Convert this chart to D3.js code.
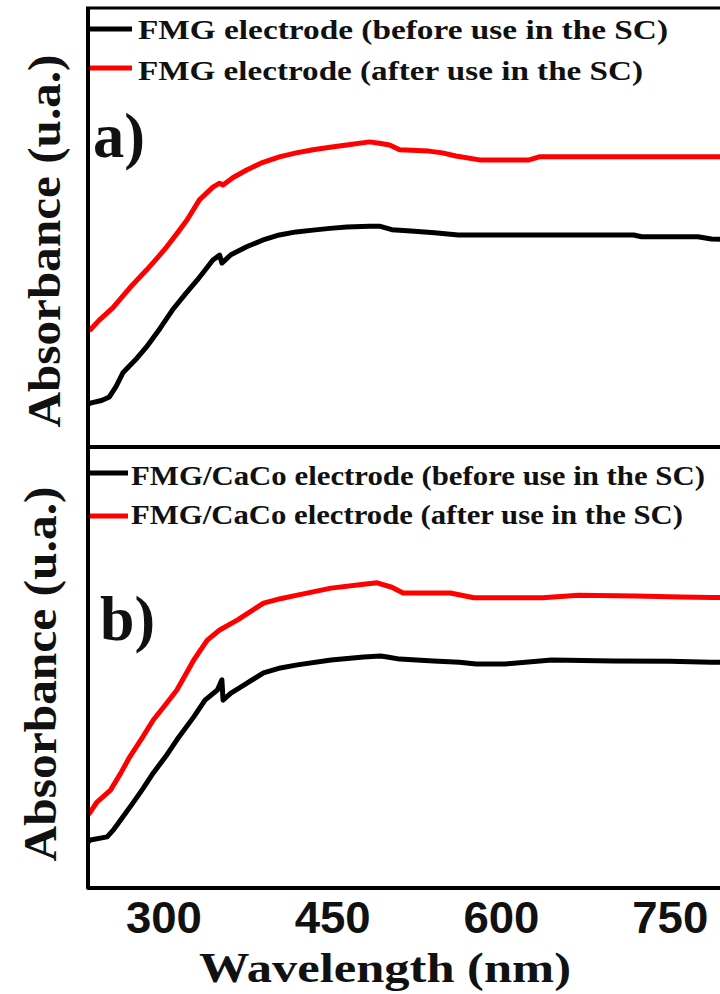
<!DOCTYPE html>
<html>
<head>
<meta charset="utf-8">
<script src="https://cdn.jsdelivr.net/npm/d3@7"></script>
<style>
  html, body { margin: 0; padding: 0; background: #fff; }
  svg { display: block; }
</style>
</head>
<body>
<svg id="chart" width="720" height="994"></svg>
<script>
// ---------------- DATA ----------------
const xTicks = [300, 450, 600, 750];

// Panel a) FMG electrode
const fmgBeforeWl  = [233, 235, 245, 252, 258, 264, 275, 285, 297, 308, 320, 330, 338, 344, 350, 352, 360, 374, 388, 403, 418, 433, 448, 463, 483, 492, 503, 520, 541, 562, 600, 650, 700, 718, 725, 760, 775, 787, 800];
const fmgBeforeAbs = [9.6, 10.0, 10.6, 11.4, 13.8, 16.9, 19.8, 22.8, 27.0, 31.2, 35.0, 38.0, 40.6, 42.6, 43.7, 41.9, 43.8, 45.6, 47.1, 48.3, 49.0, 49.4, 49.8, 50.1, 50.3, 50.3, 49.5, 49.2, 48.8, 48.3, 48.3, 48.3, 48.3, 48.3, 47.9, 47.9, 47.9, 47.4, 47.3];

const fmgAfterWl  = [233, 235, 243, 255, 262, 270, 285, 295, 303, 312, 321, 332, 344, 350, 353, 362, 374, 388, 403, 418, 433, 448, 463, 483, 492, 501, 510, 536, 548, 560, 581, 600, 625, 634, 700, 750, 787, 800];
const fmgAfterAbs = [26.7, 26.7, 28.9, 31.7, 33.8, 36.2, 40.3, 43.2, 45.6, 48.6, 51.7, 56.3, 59.2, 60.1, 59.7, 61.4, 63.1, 64.8, 66.1, 67.0, 67.7, 68.3, 68.8, 69.5, 69.2, 68.8, 67.7, 67.4, 67.0, 66.3, 65.4, 65.4, 65.4, 66.1, 66.1, 66.1, 66.1, 66.1];

// Panel b) FMG/CaCo electrode
const cacoBeforeWl  = [233, 235, 250, 256, 262, 273, 282, 291, 302, 312, 327, 337, 348, 352, 353, 360, 369, 389, 404, 419, 449, 478, 493, 499, 510, 540, 563, 578, 604, 645, 700, 750, 787, 800];
const cacoBeforeAbs = [10.4, 10.9, 11.6, 13.3, 15.4, 19.3, 22.6, 26.1, 29.8, 33.6, 38.8, 42.6, 44.9, 47.2, 42.6, 44.2, 45.6, 48.8, 49.9, 50.6, 51.7, 52.4, 52.6, 52.4, 51.9, 51.5, 51.2, 50.8, 50.8, 51.7, 51.5, 51.4, 51.2, 51.2];

const cacoAfterWl  = [233, 235, 241, 253, 262, 270, 281, 291, 302, 312, 327, 339, 350, 366, 389, 404, 419, 449, 478, 490, 503, 513, 555, 576, 637, 669, 720, 760, 787, 800];
const cacoAfterAbs = [16.6, 17.2, 19.5, 22.2, 26.0, 29.7, 34.0, 38.1, 41.6, 44.9, 51.7, 56.2, 58.5, 60.8, 64.6, 65.6, 66.4, 68.0, 68.9, 69.2, 68.2, 66.9, 66.9, 65.8, 65.8, 66.4, 66.2, 66.0, 65.9, 65.9];

const panels = [
  { tag: "a)", series: [
      { name: "FMG electrode (before use in the SC)", wl: fmgBeforeWl, abs: fmgBeforeAbs, color: "#000000" },
      { name: "FMG electrode (after use in the SC)",  wl: fmgAfterWl,  abs: fmgAfterAbs,  color: "#ff0000" } ] },
  { tag: "b)", series: [
      { name: "FMG/CaCo electrode (before use in the SC)", wl: cacoBeforeWl, abs: cacoBeforeAbs, color: "#000000" },
      { name: "FMG/CaCo electrode (after use in the SC)",  wl: cacoAfterWl,  abs: cacoAfterAbs,  color: "#ff0000" } ] }
];

// ---------------- LAYOUT ----------------
const svg = d3.select("#chart");
const left = 88, right = 726;
const panelTops = [8, 447], panelBottoms = [447, 888];
const serif = "'Liberation Serif', 'Times New Roman', serif";
const sans = "'Liberation Sans', Arial, sans-serif";

const x = d3.scaleLinear().domain([233, 800]).range([left, right]);

const legendCfg = [
  { lineX2: 132, textX: 138, rows: [ {y: 29, base: 39, len: 530}, {y: 68, base: 80, len: 505} ], size: 27 },
  { lineX2: 128, textX: 131, rows: [ {y: 473, base: 485, len: 574}, {y: 516, base: 524, len: 552} ], size: 27 }
];
const tagCfg = [ {x: 93, base: 157, len: 52, size: 64}, {x: 100, base: 640, len: 55, size: 64} ];
const ylabCfg = [ {cx: 44, cy: 241, len: 373}, {cx: 40, cy: 674, len: 375} ];

panels.forEach((p, i) => {
  const y = d3.scaleLinear().domain([0, 100]).range([panelBottoms[i], panelTops[i]]);
  const g = svg.append("g");
  const line = d3.line().x(d => x(d[0])).y(d => y(d[1])).curve(d3.curveLinear);

  p.series.forEach(s => {
    g.append("path")
      .datum(d3.zip(s.wl, s.abs))
      .attr("d", line)
      .attr("fill", "none")
      .attr("stroke", s.color)
      .attr("stroke-width", 5)
      .attr("stroke-linejoin", "round");
  });

  const lc = legendCfg[i];
  p.series.forEach((s, k) => {
    const r = lc.rows[k];
    g.append("line").attr("x1", left).attr("x2", lc.lineX2).attr("y1", r.y).attr("y2", r.y)
      .attr("stroke", s.color).attr("stroke-width", 5);
    g.append("text").attr("x", lc.textX).attr("y", r.base)
      .attr("font-family", serif).attr("font-weight", "bold").attr("font-size", lc.size)
      .attr("fill", "#111")
      .attr("textLength", r.len).attr("lengthAdjust", "spacingAndGlyphs")
      .text(s.name);
  });

  const tc = tagCfg[i];
  g.append("text").attr("x", tc.x).attr("y", tc.base)
    .attr("font-family", serif).attr("font-weight", "bold").attr("font-size", tc.size)
    .attr("fill", "#111")
    .attr("textLength", tc.len).attr("lengthAdjust", "spacingAndGlyphs")
    .text(p.tag);

  const yc = ylabCfg[i];
  g.append("text")
    .attr("transform", `translate(${yc.cx + 16},${yc.cy}) rotate(-90)`)
    .attr("text-anchor", "middle")
    .attr("font-family", serif).attr("font-weight", "bold").attr("font-size", 46)
    .attr("fill", "#111")
    .attr("textLength", yc.len).attr("lengthAdjust", "spacingAndGlyphs")
    .text("Absorbance (u.a.)");
});

// frame lines
const frame = svg.append("g").attr("stroke", "#000").attr("fill", "none");
frame.append("line").attr("x1", left - 2).attr("x2", 720).attr("y1", 8).attr("y2", 8).attr("stroke-width", 3);
frame.append("line").attr("x1", left).attr("x2", 720).attr("y1", 447).attr("y2", 447).attr("stroke-width", 4);
frame.append("path").attr("d", `M${left},7 V888 H720`).attr("stroke-width", 4).attr("stroke-linejoin", "round");

// x axis (tick labels only, no tick marks)
const xAxis = d3.axisBottom(x).tickValues(xTicks).tickSize(0).tickPadding(0);
const ax = svg.append("g").attr("transform", "translate(0,888)").call(xAxis);
ax.select(".domain").remove();
ax.selectAll("text")
  .attr("y", 45).attr("dy", 0)
  .attr("font-family", sans).attr("font-weight", "bold").attr("font-size", 44)
  .attr("fill", "#111")
  .attr("textLength", 76).attr("lengthAdjust", "spacingAndGlyphs");

svg.append("text").attr("x", 385).attr("y", 982).attr("text-anchor", "middle")
  .attr("font-family", serif).attr("font-weight", "bold").attr("font-size", 43)
  .attr("fill", "#111")
  .attr("textLength", 372).attr("lengthAdjust", "spacingAndGlyphs")
  .text("Wavelength (nm)");
</script>
</body>
</html>
